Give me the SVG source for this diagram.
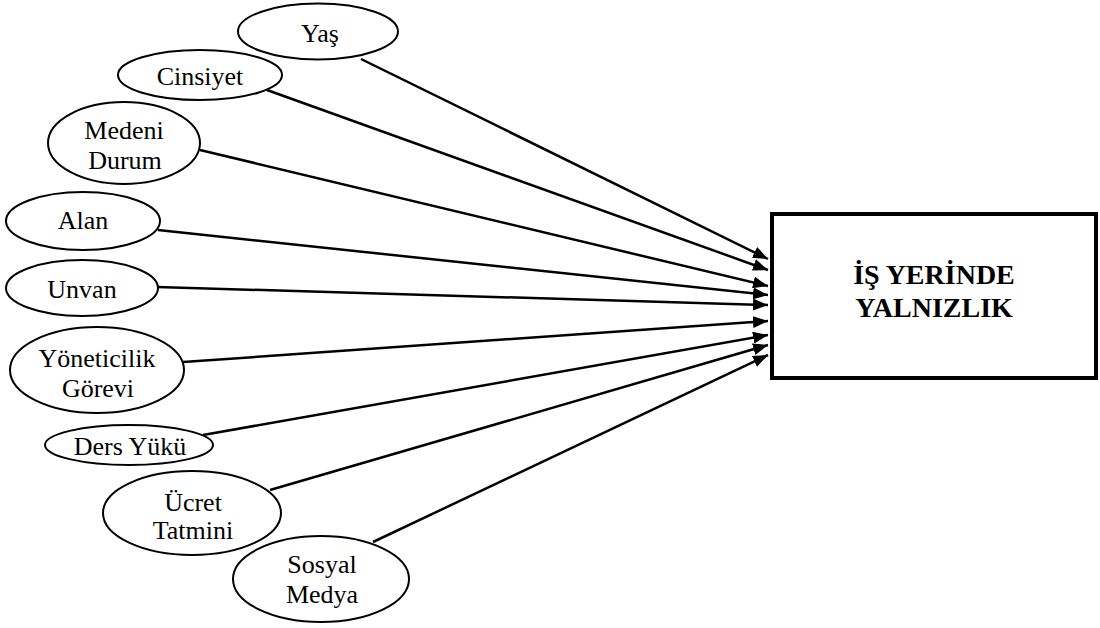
<svg xmlns="http://www.w3.org/2000/svg" width="1100" height="628" viewBox="0 0 1100 628">
  <style>
    .node ellipse { fill: #ffffff; stroke: #000000; stroke-width: 2; }
    .lbl { font-family: 'Liberation Serif', 'Times New Roman', Times, 'DejaVu Serif', serif; font-size: 26px; fill: #000000; text-anchor: middle; }
    .title { font-family: 'Liberation Serif', 'Times New Roman', Times, 'DejaVu Serif', serif; font-size: 28px; font-weight: bold; fill: #000000; text-anchor: middle; }
    .conn line { stroke: #000000; stroke-width: 2.5; fill: none; marker-end: url(#arrow); }
  </style>
  <defs>
    <marker id="arrow" markerUnits="userSpaceOnUse" markerWidth="16" markerHeight="12" refX="15" refY="6" orient="auto">
      <path d="M0,0 L15,6 L0,12 Z" fill="#000000"/>
    </marker>
  </defs>
  <rect width="1100" height="628" fill="#ffffff"/>

  <g id="connectors" class="conn">
    <line x1="361" y1="59" x2="768" y2="259"/>
    <line x1="267" y1="90" x2="768" y2="270"/>
    <line x1="200" y1="150" x2="768" y2="286"/>
    <line x1="158" y1="230" x2="768" y2="295"/>
    <line x1="157" y1="287" x2="768" y2="305"/>
    <line x1="183" y1="362" x2="768" y2="321"/>
    <line x1="203" y1="435" x2="768" y2="335"/>
    <line x1="270" y1="490" x2="768" y2="345"/>
    <line x1="373" y1="542" x2="768" y2="355"/>
  </g>

  <g id="node-yas" class="node">
    <ellipse cx="318" cy="31.5" rx="80" ry="28"/>
    <text class="lbl" x="320" y="42" font-family="Liberation Serif, serif">Yaş</text>
  </g>
  <g id="node-cinsiyet" class="node">
    <ellipse cx="200" cy="75" rx="82" ry="25"/>
    <text class="lbl" x="200" y="85">Cinsiyet</text>
  </g>
  <g id="node-medeni" class="node">
    <ellipse cx="124" cy="143" rx="76" ry="41"/>
    <text class="lbl" x="124" y="139">Medeni</text>
    <text class="lbl" x="125" y="169">Durum</text>
  </g>
  <g id="node-alan" class="node">
    <ellipse cx="83" cy="221" rx="77" ry="29"/>
    <text class="lbl" x="83" y="229">Alan</text>
  </g>
  <g id="node-unvan" class="node">
    <ellipse cx="82" cy="288" rx="76" ry="28"/>
    <text class="lbl" x="82" y="298">Unvan</text>
  </g>
  <g id="node-yoneticilik" class="node">
    <ellipse cx="97" cy="370" rx="87" ry="43"/>
    <text class="lbl" x="97" y="367">Yöneticilik</text>
    <text class="lbl" x="98" y="397">Görevi</text>
  </g>
  <g id="node-ders" class="node">
    <ellipse cx="129" cy="445" rx="84" ry="20"/>
    <text class="lbl" x="130" y="455">Ders Yükü</text>
  </g>
  <g id="node-ucret" class="node">
    <ellipse cx="192" cy="513" rx="89" ry="42"/>
    <text class="lbl" x="193" y="511">Ücret</text>
    <text class="lbl" x="193" y="539">Tatmini</text>
  </g>
  <g id="node-sosyal" class="node">
    <ellipse cx="321" cy="579" rx="88" ry="43"/>
    <text class="lbl" x="322" y="573">Sosyal</text>
    <text class="lbl" x="322" y="603">Medya</text>
  </g>

  <g id="node-yalnizlik">
    <rect x="772" y="214" width="324" height="164" fill="#ffffff" stroke="#000000" stroke-width="4"/>
    <text class="title" x="934" y="284">İŞ YERİNDE</text>
    <text class="title" x="934" y="317">YALNIZLIK</text>
  </g>
</svg>
